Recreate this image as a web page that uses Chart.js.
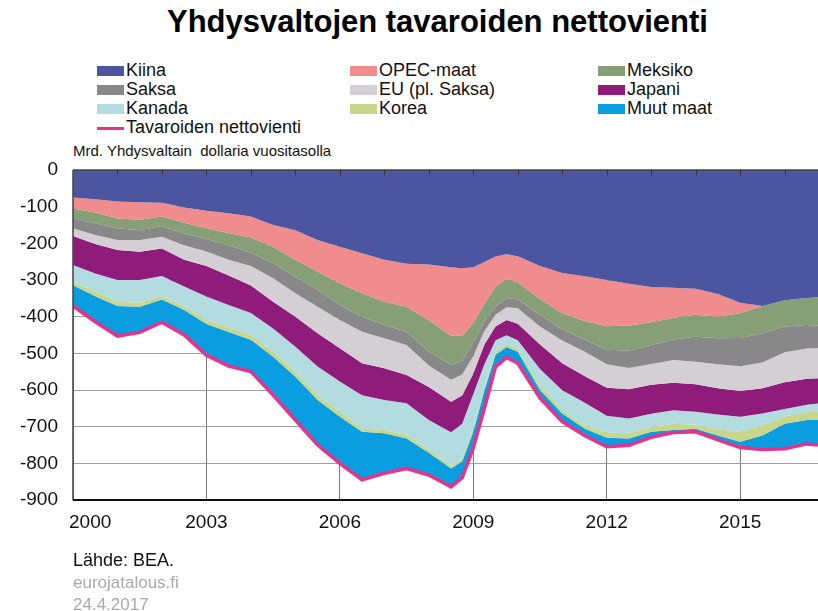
<!DOCTYPE html>
<html lang="fi">
<head>
<meta charset="UTF-8">
<title>Yhdysvaltojen tavaroiden nettovienti</title>
<script src="https://cdn.jsdelivr.net/npm/chart.js"></script>
<style>
  body {
    margin: 0;
    width: 818px;
    height: 611px;
    background: #fff;
    font-family: 'Liberation Sans', Arial, sans-serif;
    position: relative;
    overflow: hidden;
  }
  .otsikko {
    position: absolute;
    top: 4px;
    left: 167px;
    font-size: 31px;
    font-weight: bold;
    color: #000;
    white-space: nowrap;
  }
  .selite-kohta {
    position: absolute;
    font-size: 18px;
    line-height: 19px;
    color: #111;
    white-space: nowrap;
  }
  .selite-kohta span.laatta {
    position: absolute;
    left: 0;
    top: 5px;
    width: 27px;
    height: 10px;
  }
  .selite-kohta span.teksti {
    position: absolute;
    left: 29px;
    top: 0;
  }
  .yksikko {
    position: absolute;
    left: 73px;
    top: 142px;
    font-size: 15px;
    color: #111;
    white-space: nowrap;
  }
  .lahde { position: absolute; left: 73px; font-size: 18px; }
  #kaavio { position: absolute; left: 0; top: 0; width: 818px; height: 611px; }
</style>
</head>
<body>
<div class="otsikko">Yhdysvaltojen tavaroiden nettovienti</div>
<div id="selite"></div>
<div class="yksikko">Mrd. Yhdysvaltain&nbsp; dollaria vuositasolla</div>
<div id="kaavio"><canvas id="nettovientiChart"></canvas></div>
<div class="lahde" style="top:550px;color:#111;">Lähde: BEA.</div>
<div class="lahde" style="top:573px;color:#aaa;font-size:17px;">eurojatalous.fi</div>
<div class="lahde" style="top:595px;color:#aaa;font-size:17px;">24.4.2017</div>

<script>
// Ajankohdat (vuosina)
const vuodet = [2000, 2000.5, 2001, 2001.5, 2002, 2002.5, 2003, 2003.5, 2004, 2004.5,
  2005, 2005.5, 2006, 2006.5, 2007, 2007.5, 2008, 2008.5, 2008.75, 2009,
  2009.25, 2009.5, 2009.75, 2010, 2010.5, 2011, 2011.5, 2012, 2012.5, 2013,
  2013.5, 2014, 2014.5, 2015, 2015.5, 2016, 2016.5, 2016.75];

// Nettovienti maittain, mrd. USD vuositasolla
const kiina = [-75, -80, -86, -88, -89, -102, -111, -118, -127, -150,
  -164, -191, -209, -227, -245, -256, -258, -265, -268, -265,
  -251, -236, -230, -235, -262, -281, -290, -300, -310, -319,
  -321, -324, -338, -362, -371, -355, -349, -347];
const opec = [-30, -36, -46, -48, -38, -42, -48, -54, -57, -59,
  -81, -86, -100, -109, -114, -117, -152, -187, -184, -153,
  -114, -82, -67, -71, -90, -109, -122, -126, -114, -96,
  -82, -71, -62, -28, 0, 0, 0, 0];
const meksiko = [-27, -29, -27, -28, -26, -29, -29, -33, -42, -45,
  -46, -50, -59, -64, -64, -68, -85, -79, -69, -53,
  -46, -55, -52, -47, -43, -44, -50, -64, -68, -62,
  -59, -60, -59, -68, -74, -72, -74, -78];
const saksa = [-27, -32, -32, -27, -29, -32, -34, -40, -36, -41,
  -45, -46, -41, -41, -36, -36, -38, -41, -37, -36,
  -28, -22, -25, -24, -32, -31, -33, -40, -48, -52,
  -56, -68, -71, -77, -80, -70, -64, -61];
const eu = [-21, -25, -27, -32, -32, -40, -40, -43, -53, -64,
  -64, -72, -77, -86, -82, -82, -59, -60, -57, -48,
  -37, -32, -35, -42, -49, -62, -67, -64, -58, -57,
  -62, -61, -65, -68, -70, -82, -82, -82];
const japani = [-79, -80, -82, -77, -75, -73, -83, -80, -75, -73,
  -82, -91, -91, -87, -86, -77, -90, -83, -77, -56,
  -54, -37, -42, -45, -67, -74, -72, -76, -80, -79,
  -75, -75, -72, -70, -69, -73, -71, -69];
const kanada = [-46, -50, -59, -62, -55, -55, -64, -62, -60, -63,
  -68, -78, -82, -91, -82, -87, -80, -92, -94, -94,
  -62, -31, -25, -23, -44, -54, -62, -46, -40, -36,
  -37, -36, -40, -41, -33, -20, -20, -22];
const korea = [-9, -12, -12, -11, -9, -9, -11, -12, -13, -14,
  -14, -13, -14, -9, -9, -9, -9, -7, -9, -9,
  -9, -9, -7, -9, -13, -9, -9, -14, -14, -13,
  -17, -11, -17, -27, -27, -20, -22, -23];
const muut = [-57, -70, -82, -70, -62, -68, -85, -93, -87, -105,
  -118, -123, -127, -131, -109, -82, -61, -50, -44, -44,
  -49, -33, -28, -31, -22, -22, -19, -25, -19, -15,
  -7, -8, -12, -16, -38, -68, -65, -68];

// Tavaroiden nettovienti yhteensä
const nettovienti = [-371, -414, -453, -443, -415, -450, -505, -535, -550, -614,
  -682, -750, -800, -845, -827, -814, -832, -864, -839, -758,
  -650, -537, -511, -527, -622, -686, -724, -755, -751, -729,
  -716, -714, -736, -757, -762, -760, -747, -750];

const sarjat = [
  { nimi: 'Kiina', arvot: kiina, vari: '#4b55a0' },
  { nimi: 'OPEC-maat', arvot: opec, vari: '#f08b8e' },
  { nimi: 'Meksiko', arvot: meksiko, vari: '#879f77' },
  { nimi: 'Saksa', arvot: saksa, vari: '#888888' },
  { nimi: 'EU (pl. Saksa)', arvot: eu, vari: '#d3cfd5' },
  { nimi: 'Japani', arvot: japani, vari: '#8f1b7b' },
  { nimi: 'Kanada', arvot: kanada, vari: '#b2dce0' },
  { nimi: 'Korea', arvot: korea, vari: '#c8d68b' },
  { nimi: 'Muut maat', arvot: muut, vari: '#0a9de0' }
];
const viivanVari = '#e8318a';

// Selite kolmeen sarakkeeseen
const sarakeX = [97, 350, 598];
const riviY = [61, 80, 99, 118];
const selite = document.getElementById('selite');
sarjat.forEach(function (s, i) {
  const kohta = document.createElement('div');
  kohta.className = 'selite-kohta';
  kohta.style.left = sarakeX[i % 3] + 'px';
  kohta.style.top = riviY[Math.floor(i / 3)] + 'px';
  kohta.innerHTML = '<span class="laatta" style="background:' + s.vari + '"></span><span class="teksti">' + s.nimi + '</span>';
  selite.appendChild(kohta);
});
const viivaKohta = document.createElement('div');
viivaKohta.className = 'selite-kohta';
viivaKohta.style.left = sarakeX[0] + 'px';
viivaKohta.style.top = riviY[3] + 'px';
viivaKohta.innerHTML = '<span class="laatta" style="background:' + viivanVari + ';height:3px;top:9px"></span><span class="teksti">Tavaroiden nettovienti</span>';
selite.appendChild(viivaKohta);

function pisteet(arvot) {
  return vuodet.map(function (v, i) { return { x: v, y: arvot[i] }; });
}

const datasets = sarjat.map(function (s, i) {
  return {
    label: s.nimi,
    data: pisteet(s.arvot),
    backgroundColor: s.vari,
    borderColor: s.vari,
    borderWidth: 0,
    pointRadius: 0,
    fill: i === 0 ? 'origin' : '-1',
    stack: 'maat',
    order: 1
  };
});
datasets.push({
  label: 'Tavaroiden nettovienti',
  data: pisteet(nettovienti),
  borderColor: viivanVari,
  borderWidth: 3.5,
  pointRadius: 0,
  fill: false,
  stack: 'yhteensa',
  order: 0
});

// Kehys, vuosimerkit ja x-akselin tekstit
const kehys = {
  id: 'kehys',
  afterDatasetsDraw(chart) {
    const ctx = chart.ctx;
    const a = chart.chartArea;
    const x = chart.scales.x;
    ctx.save();
    ctx.strokeStyle = '#444';
    ctx.lineWidth = 1.5;
    ctx.beginPath();
    ctx.moveTo(a.left, a.top);
    ctx.lineTo(a.right, a.top);
    ctx.moveTo(a.left, a.top);
    ctx.lineTo(a.left, a.bottom);
    ctx.stroke();
    ctx.strokeStyle = '#111';
    ctx.lineWidth = 2;
    ctx.beginPath();
    ctx.moveTo(a.left, a.bottom);
    ctx.lineTo(a.right, a.bottom);
    ctx.stroke();
    ctx.strokeStyle = '#333';
    ctx.lineWidth = 1;
    ctx.beginPath();
    for (let v = 2001; v <= 2016; v++) {
      const px = Math.round(x.getPixelForValue(v)) + 0.5;
      ctx.moveTo(px, a.top);
      ctx.lineTo(px, a.top + 5);
    }
    ctx.stroke();
    ctx.fillStyle = '#111';
    ctx.font = '19px "Liberation Sans", Arial, sans-serif';
    ctx.textBaseline = 'middle';
    for (let v = 2000; v <= 2015; v += 3) {
      const px = x.getPixelForValue(v);
      if (v === 2000) {
        ctx.textAlign = 'left';
        ctx.fillText(String(v), px - 4, a.bottom + 23);
      } else {
        ctx.textAlign = 'center';
        ctx.fillText(String(v), px, a.bottom + 23);
      }
    }
    ctx.restore();
  }
};

new Chart(document.getElementById('nettovientiChart'), {
  type: 'line',
  data: { datasets: datasets },
  options: {
    responsive: true,
    maintainAspectRatio: false,
    animation: false,
    layout: { padding: { top: 170, left: 0, right: 0, bottom: 0 } },
    plugins: {
      legend: { display: false },
      tooltip: { enabled: false }
    },
    elements: { line: { tension: 0 } },
    scales: {
      x: {
        type: 'linear',
        min: 2000,
        max: 2016.75,
        border: { display: false },
        ticks: { display: false, stepSize: 1 },
        grid: {
          drawTicks: false,
          color: function (c) {
            return c.tick && (c.tick.value - 2000) % 3 === 0 ? '#7a7a7a' : 'rgba(0,0,0,0)';
          }
        },
        afterFit: function (scale) { scale.height = 111; }
      },
      y: {
        stacked: true,
        min: -900,
        max: 0,
        border: { display: false },
        ticks: {
          stepSize: 100,
          padding: 15,
          color: '#111',
          font: { family: '"Liberation Sans", Arial, sans-serif', size: 19 }
        },
        grid: { drawTicks: false, color: '#a0a0a0' },
        afterFit: function (scale) { scale.width = 73; }
      }
    }
  },
  plugins: [kehys]
});
</script>
</body>
</html>
